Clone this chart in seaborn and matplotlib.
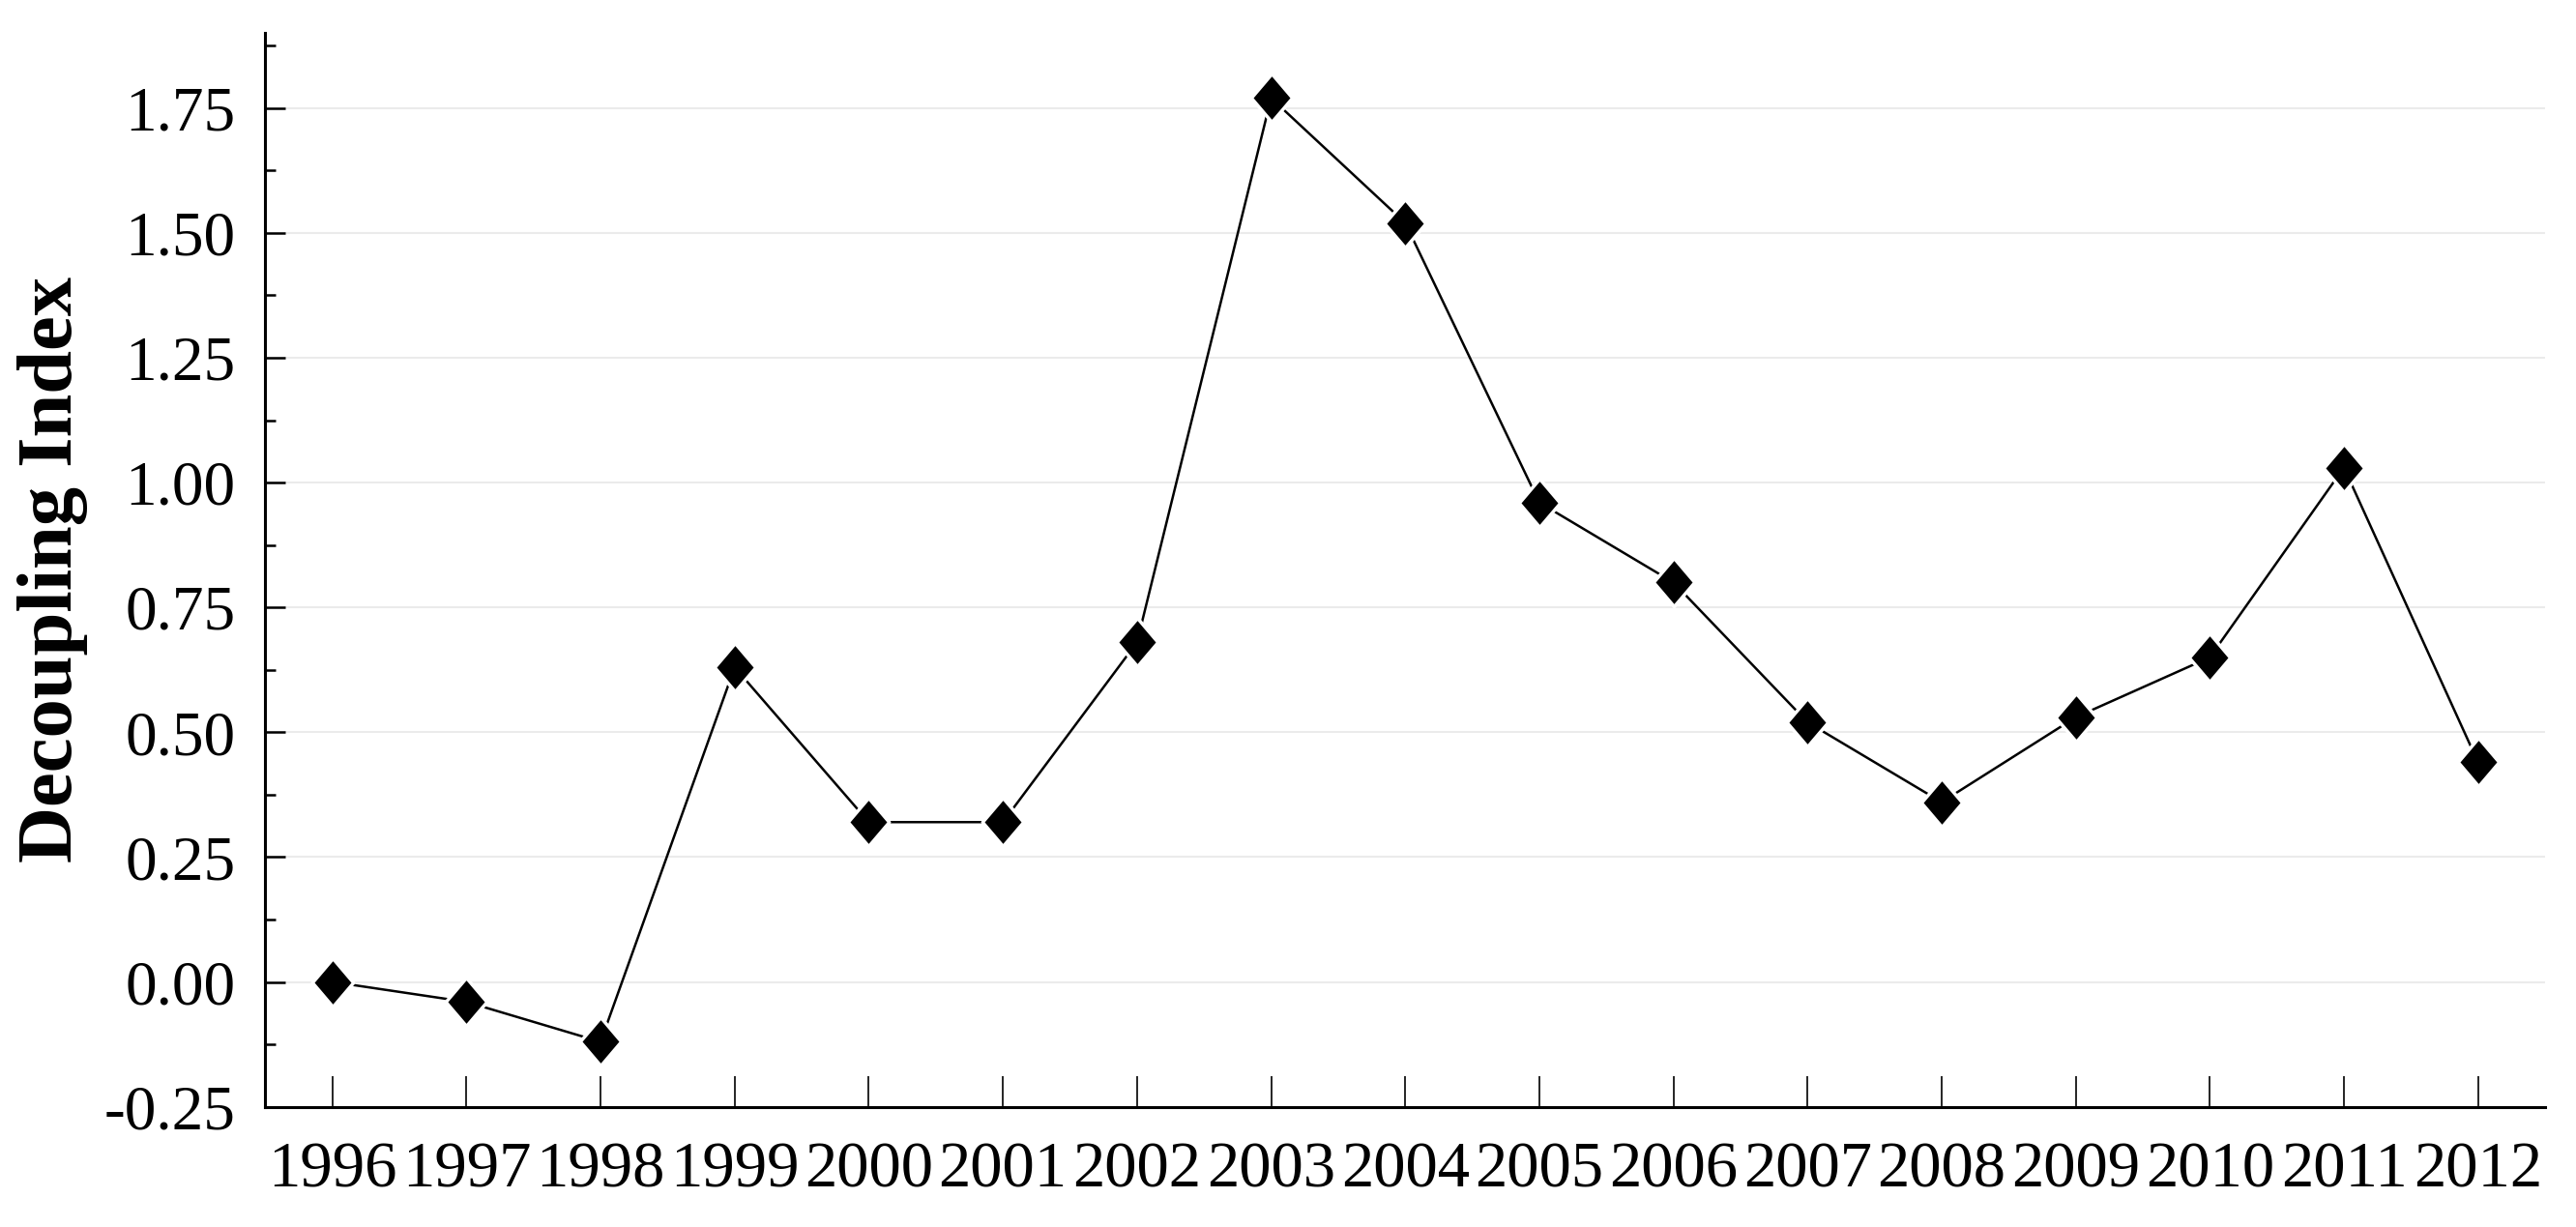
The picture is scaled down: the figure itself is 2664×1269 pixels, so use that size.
import matplotlib
matplotlib.use("Agg")
import matplotlib.pyplot as plt
from matplotlib.ticker import MultipleLocator
import numpy as np
import pandas as pd
import seaborn as sns

# values
years = [1996, 1997, 1998, 1999, 2000, 2001, 2002, 2003, 2004,
         2005, 2006, 2007, 2008, 2009, 2010, 2011, 2012]
decoupling = [0.00, -0.04, -0.12, 0.63, 0.32, 0.32, 0.68, 1.77, 1.52,
              0.96, 0.80, 0.52, 0.36, 0.53, 0.65, 1.03, 0.44]
y_ticks = [-0.25, 0.00, 0.25, 0.50, 0.75, 1.00, 1.25, 1.50, 1.75]

df = pd.DataFrame({"year": years, "index": decoupling})

sns.set_style("ticks")
plt.rcParams["font.family"] = ["Liberation Serif", "DejaVu Serif"]
plt.rcParams["text.color"] = "black"
plt.rcParams["axes.labelcolor"] = "black"
plt.rcParams["xtick.color"] = "black"
plt.rcParams["ytick.color"] = "black"

fig = plt.figure(figsize=(26.64, 12.69), dpi=100)
ax = fig.add_axes([0.103, 0.098, 0.885, 0.875])

# diamond marker, a little taller than wide
diamond = [(0, 1), (0.85, 0), (0, -1), (-0.85, 0), (0, 1)]
sns.lineplot(data=df, x="year", y="index", ax=ax, color="black",
             linewidth=1.8, marker=diamond, markersize=36,
             markerfacecolor="black", markeredgecolor="white",
             markeredgewidth=2.5, zorder=3)

ax.set_xlim(1995.5, 2012.5)
ax.set_ylim(-0.25, 1.90)
ax.set_xticks(years)
ax.set_xticklabels([str(y) for y in years])
ax.set_yticks(y_ticks)
ax.set_yticklabels([f"{v:.2f}" for v in y_ticks])
ax.yaxis.set_minor_locator(MultipleLocator(0.125))

ax.grid(axis="y", which="major", color="#ebebeb", linewidth=1.5, zorder=0)
ax.set_axisbelow(True)

for side in ["top", "right"]:
    ax.spines[side].set_visible(False)
for side in ["left", "bottom"]:
    ax.spines[side].set_linewidth(2.2)
    ax.spines[side].set_color("black")

ax.tick_params(axis="x", which="major", direction="in", length=23,
               width=1.2, labelsize=48, pad=26)
ax.tick_params(axis="y", which="major", direction="in", length=15,
               width=1.8, labelsize=47, pad=22)
ax.tick_params(axis="y", which="minor", direction="in", length=8,
               width=1.8)

ax.set_xlabel("")
ax.set_ylabel("Decoupling Index", fontsize=58, fontweight="bold", labelpad=12)

fig.savefig("out.png", dpi=100)
